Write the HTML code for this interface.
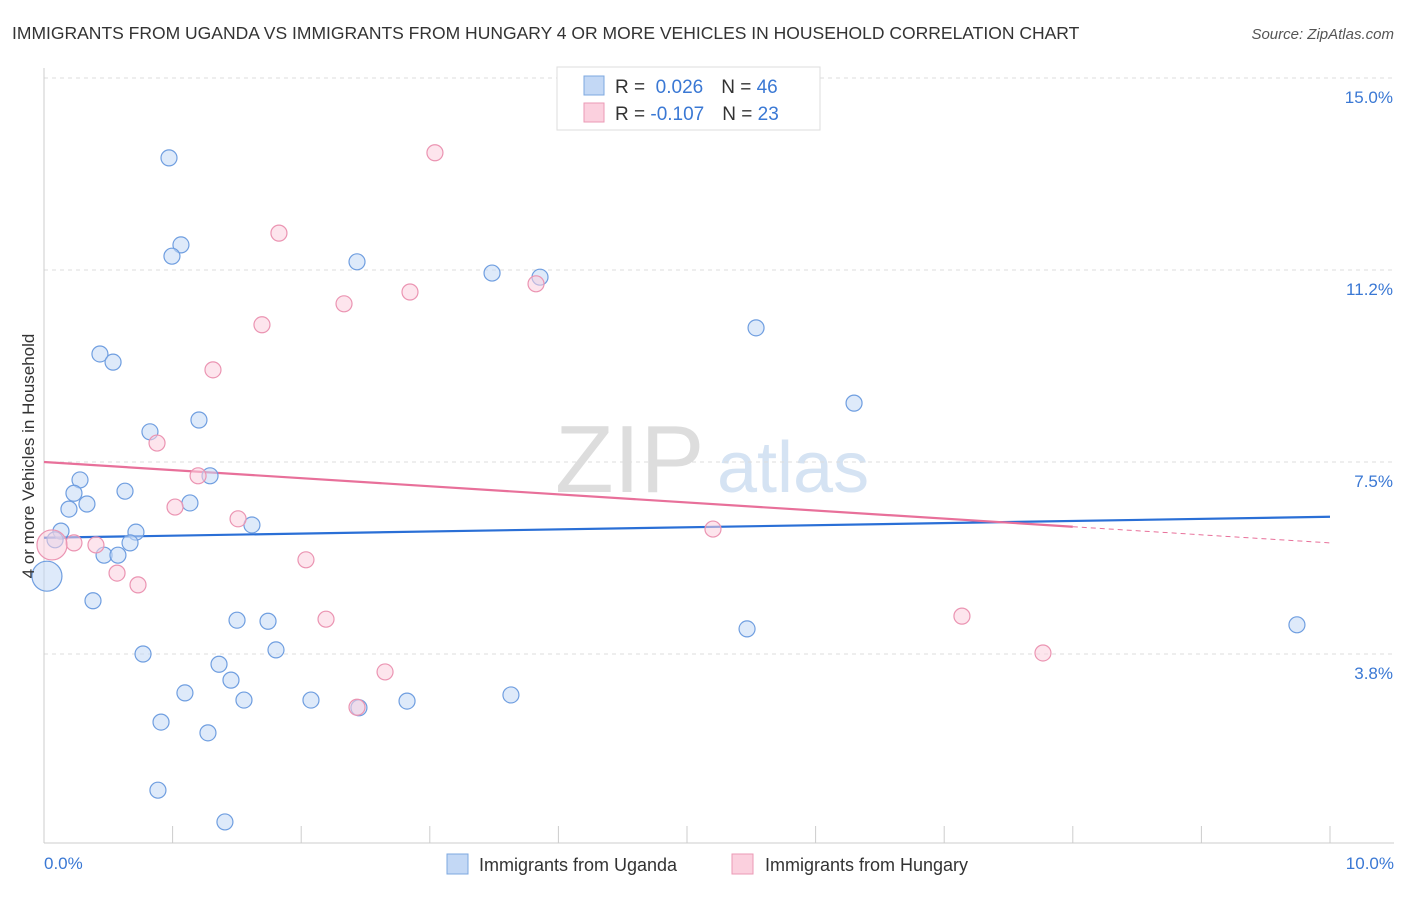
<!DOCTYPE html>
<html><head><meta charset="utf-8"><style>
body{margin:0;background:#fff;font-family:"Liberation Sans",sans-serif;}
svg text{font-family:"Liberation Sans",sans-serif;}
</style></head><body>
<svg id="chart" width="1406" height="892" xmlns="http://www.w3.org/2000/svg">
<text x="12" y="39" font-size="17.5" fill="#333">IMMIGRANTS FROM UGANDA VS IMMIGRANTS FROM HUNGARY 4 OR MORE VEHICLES IN HOUSEHOLD CORRELATION CHART</text>
<text x="1394" y="39" font-size="15" fill="#555" text-anchor="end" font-style="italic">Source: ZipAtlas.com</text>
<g>
<text x="555" y="492" font-size="96" fill="#ddd" font-family="Liberation Serif,serif">ZIP</text>
<text x="717" y="492" font-size="72" fill="#d5e3f3">atlas</text>
</g>
<g id="grid"></g>
<g id="axes"></g>
<g id="trends"></g>
<g id="points"></g>
<text transform="translate(34,456) rotate(-90)" font-size="17" fill="#333" text-anchor="middle">4 or more Vehicles in Household</text>
<text x="44" y="869" font-size="17" fill="#3a78d4">0.0%</text>
<text x="1394" y="869" font-size="17" fill="#3a78d4" text-anchor="end">10.0%</text>
<g>
<rect x="557" y="67" width="263" height="63" fill="#fff" stroke="#ddd"/>
<rect x="584" y="76" width="20" height="19" fill="#c3d8f5" stroke="#7ea8e0"/>
<rect x="584" y="103" width="20" height="19" fill="#fbd0de" stroke="#eb9ab5"/>
<text x="615" y="93" font-size="19" fill="#333">R = <tspan fill="#3a78d4">&#160;0.026</tspan><tspan dx="18" fill="#333">N = </tspan><tspan fill="#3a78d4">46</tspan></text>
<text x="615" y="120" font-size="19" fill="#333">R = <tspan fill="#3a78d4">-0.107</tspan><tspan dx="18" fill="#333">N = </tspan><tspan fill="#3a78d4">23</tspan></text>
</g>
<g>
<rect x="447" y="854" width="21" height="20" fill="#c3d8f5" stroke="#7ea8e0"/>
<text x="479" y="871" font-size="18" fill="#333">Immigrants from Uganda</text>
</g>
<g>
<rect x="732" y="854" width="21" height="20" fill="#fbd0de" stroke="#eb9ab5"/>
<text x="765" y="871" font-size="18" fill="#333">Immigrants from Hungary</text>
</g>
</svg>
<script>
const yTicks=[3.75,7.5,11.25,15];
const yTickLabels=["3.8%","7.5%","11.2%","15.0%"];
const xTicks=[0,1,2,3,4,5,6,7,8,9,10];
const ugandaX=[0.972,1.065,0.995,2.434,3.484,3.857,5.537,0.435,0.537,6.299,0.824,1.205,1.291,0.280,0.630,0.233,0.334,0.194,1.135,0.132,0.086,0.715,1.617,0.669,0.467,0.575,0.023,0.381,1.501,1.742,5.467,9.743,0.770,1.804,1.361,1.454,1.096,1.555,2.076,2.449,2.823,3.631,0.910,1.275,0.886,1.407];
const ugandaY=[13.44,11.74,11.52,11.41,11.19,11.11,10.12,9.61,9.45,8.65,8.09,8.32,7.23,7.15,6.93,6.89,6.68,6.58,6.70,6.15,5.98,6.13,6.27,5.92,5.68,5.68,5.27,4.79,4.41,4.39,4.24,4.32,3.75,3.83,3.55,3.24,2.99,2.85,2.85,2.70,2.83,2.95,2.42,2.21,1.09,0.47];
const hungaryX=[3.040,1.827,1.695,2.333,2.846,3.826,1.314,0.879,1.198,1.019,1.509,5.202,0.404,0.233,0.062,0.568,0.731,2.037,2.193,7.138,7.768,2.652,2.434];
const hungaryY=[13.54,11.97,10.18,10.59,10.82,10.98,9.30,7.87,7.23,6.62,6.39,6.19,5.88,5.92,5.88,5.33,5.10,5.59,4.43,4.49,3.77,3.40,2.71];
const ugandaTrend=[6.02,6.43];
const hungaryTrend=[7.5,5.92];
const hungarySolidEnd=8.0;
const bigUganda=26, bigHungary=14;
const NS="http://www.w3.org/2000/svg";
const X=v=>44+128.6*v, Y=v=>846-51.2*v;
function mk(t,a,p){const e=document.createElementNS(NS,t);for(const k in a)e.setAttribute(k,a[k]);p.appendChild(e);return e;}
const grid=document.getElementById('grid'),axes=document.getElementById('axes'),tr=document.getElementById('trends'),pts=document.getElementById('points');
yTicks.forEach((v,i)=>{
 const l=mk('line',{x1:44,x2:1394,y1:Y(v),y2:Y(v),stroke:'#ddd','stroke-dasharray':'4,4'},grid);
 
 
 const t=mk('text',{x:1393,y:Y(v)+25,'font-size':17,fill:'#3a78d4','text-anchor':'end'},grid);
 t.textContent=yTickLabels[i];
 
 
});
const ya=mk('line',{x1:44,x2:44,y1:68,y2:843,stroke:'#ccc'},axes);


const xa=mk('line',{x1:44,x2:1394,y1:843,y2:843,stroke:'#ccc'},axes);


xTicks.forEach(v=>{
 const t=mk('line',{x1:X(v),x2:X(v),y1:826,y2:843,stroke:'#ccc'},axes);
 
 
});
function dots(xs,ys,fill,stroke,bigIdx,name){
 xs.forEach((x,i)=>{
  const c=mk('circle',{cx:X(x),cy:Y(ys[i]),r:i===bigIdx?15:8,fill:fill,'fill-opacity':0.55,stroke:stroke,'stroke-width':1.2},pts);
  
  
 });
}
dots(ugandaX,ugandaY,'#c3d8f5','#6f9ee0',bigUganda,'uganda-point');
dots(hungaryX,hungaryY,'#fbd0de','#eb94b2',bigHungary,'hungary-point');
const bl=mk('line',{x1:X(0),y1:Y(ugandaTrend[0]),x2:X(10),y2:Y(ugandaTrend[1]),stroke:'#2a6fd6','stroke-width':2.2},tr);


const hy=v=>hungaryTrend[0]+(hungaryTrend[1]-hungaryTrend[0])*v/10;
const pl=mk('line',{x1:X(0),y1:Y(hy(0)),x2:X(hungarySolidEnd),y2:Y(hy(hungarySolidEnd)),stroke:'#e8709a','stroke-width':2.2},tr);


const pd=mk('line',{x1:X(hungarySolidEnd),y1:Y(hy(hungarySolidEnd)),x2:X(10),y2:Y(hy(10)),stroke:'#e8709a','stroke-width':1,'stroke-dasharray':'5,4'},tr);


</script>
</body></html>
